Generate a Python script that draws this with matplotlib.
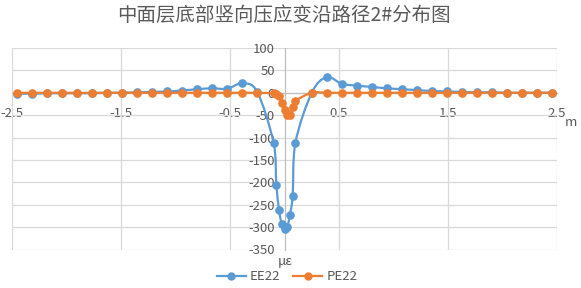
import matplotlib.pyplot as plt
from matplotlib.path import Path
from matplotlib.patches import PathPatch
from matplotlib.lines import Line2D

plt.rcParams['font.family'] = ['Noto Sans CJK SC', 'DejaVu Sans']
plt.rcParams['axes.unicode_minus'] = False

# positions along path 2# (m)
x_left = [-2.45, -2.3125, -2.175, -2.0375, -1.9, -1.7625, -1.625, -1.4875, -1.35,
          -1.2125, -1.075, -0.9375, -0.8, -0.6625, -0.525, -0.3875, -0.25]
x_mid = [-0.1, -0.075, -0.05, -0.025, 0.0, 0.025, 0.05, 0.075, 0.1]
x_right = [0.25, 0.3875, 0.525, 0.6625, 0.8, 0.9375, 1.075, 1.2125, 1.35,
           1.4875, 1.625, 1.7625, 1.9, 2.0375, 2.175, 2.3125, 2.45]

# vertical compressive strain (micro-strain)
ee_left = [-2, -2, -1, -1, -1, -1, 0, 0, 1, 2, 3, 5, 8, 10, 9, 21, 2]
ee_mid = [-112, -205, -262, -294, -304, -300, -272, -230, -112]
ee_right = [0, 35, 20, 16, 13, 10, 8, 6, 4, 3, 2, 1, 1, 0, 0, 0, 0]

pe_left = [0] * 17
pe_mid = [-1, -3, -8, -22, -39, -49, -50, -31, -18]
pe_right = [0] * 17

xs = x_left + x_mid + x_right
ee22 = ee_left + ee_mid + ee_right
pe22 = pe_left + pe_mid + pe_right

BLUE = '#5B9BD5'
ORANGE = '#ED7D31'
TXT = '#595959'
GRID = '#D9D9D9'

W, H = 581, 288


def smooth_path(x, y):
    # Excel-style smoothed line as cubic Bezier segments through the points
    pts = list(zip(x, y))
    verts = [pts[0]]
    codes = [Path.MOVETO]
    n = len(pts)
    for i in range(n - 1):
        p0 = pts[i - 1] if i > 0 else pts[i]
        p1 = pts[i]
        p2 = pts[i + 1]
        p3 = pts[i + 2] if i + 2 < n else pts[i + 1]
        c1 = (p1[0] + (p2[0] - p0[0]) / 6, p1[1] + (p2[1] - p0[1]) / 6)
        c2 = (p2[0] - (p3[0] - p1[0]) / 6, p2[1] - (p3[1] - p1[1]) / 6)
        verts += [c1, c2, p2]
        codes += [Path.CURVE4] * 3
    return Path(verts, codes)


fig = plt.figure(figsize=(W / 100, H / 100), dpi=100)
ax = fig.add_axes([12 / W, 1 - 249.5 / H, 545 / W, 201.5 / H])

for x, y, c in [(xs, ee22, BLUE), (xs, pe22, ORANGE)]:
    ax.add_patch(PathPatch(smooth_path(x, y), fill=False, edgecolor=c, lw=1.6, zorder=3))
    ax.plot(x, y, 'o', color=c, ms=5.2, zorder=4)

ax.set_xlim(-2.5, 2.5)
ax.set_ylim(-350, 100)
ax.set_xticks([-2.5, -1.5, -0.5, 0.5, 1.5, 2.5])
ax.set_yticks(range(-350, 101, 50))
ax.grid(True, color=GRID, lw=0.9)
ax.set_axisbelow(True)

for s in ['top', 'right']:
    ax.spines[s].set_visible(False)
ax.spines['bottom'].set_position(('data', 0))
ax.spines['left'].set_position(('data', 0))
for s in ['bottom', 'left']:
    ax.spines[s].set_color('#BFBFBF')
    ax.spines[s].set_linewidth(0.9)

ax.tick_params(axis='x', length=0, pad=10, labelsize=9.5, labelcolor=TXT)
ax.tick_params(axis='y', length=0, pad=7, labelsize=9.5, labelcolor=TXT)

fig.text(284 / W, 1 - 15 / H, '中面层底部竖向压应变沿路径2#分布图',
         ha='center', va='center', fontsize=14, color=TXT)
fig.text(571 / W, 1 - 122 / H, 'm', ha='center', va='center', fontsize=9.5, color=TXT)
fig.text(285 / W, 1 - 261 / H, 'με', ha='center', va='center', fontsize=9.5, color=TXT)

handles = [Line2D([], [], color=BLUE, marker='o', ms=5, lw=1.6),
           Line2D([], [], color=ORANGE, marker='o', ms=5, lw=1.6)]
fig.legend(handles, ['EE22', 'PE22'], loc='center', bbox_to_anchor=(287 / W, 1 - 277 / H),
           ncol=2, frameon=False, fontsize=9.5, labelcolor=TXT, handlelength=2.2,
           handletextpad=0.3, columnspacing=1.0, borderpad=0, borderaxespad=0)

fig.savefig('out.png', dpi=100)
